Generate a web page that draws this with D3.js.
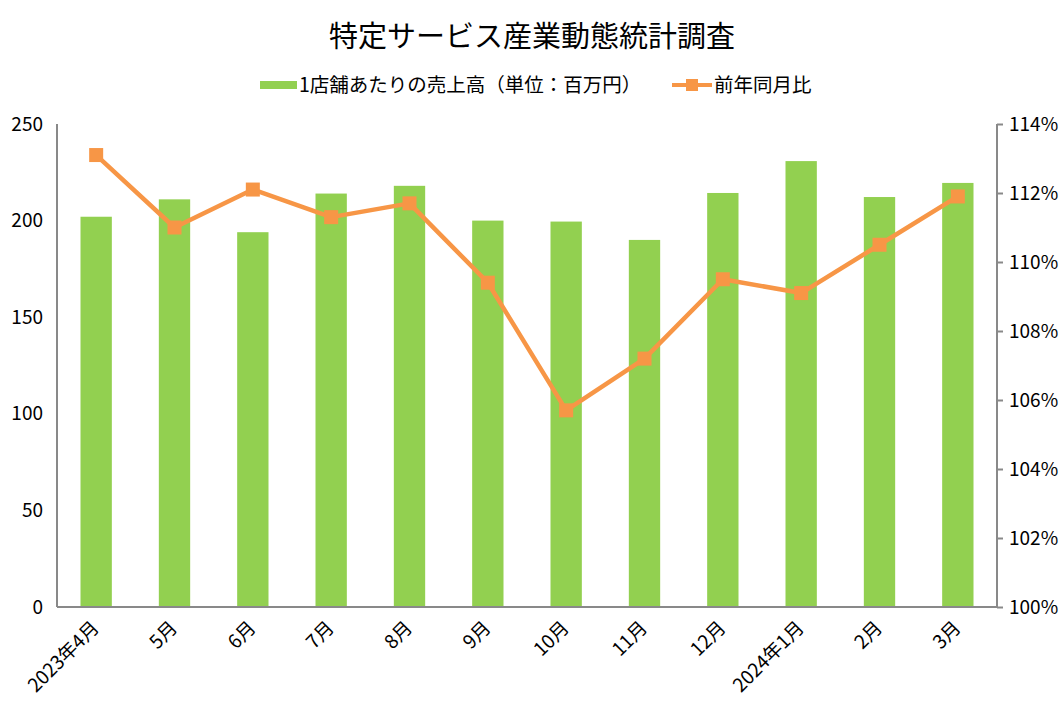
<!DOCTYPE html>
<html><head><meta charset="utf-8">
<script src="https://cdn.jsdelivr.net/npm/d3@7"></script>
<style>
body{margin:0;background:#fff;}
text{font-family:"Liberation Sans Narrow","Noto Sans CJK JP",sans-serif;fill:#000;}
.cjk{font-family:"Noto Sans CJK JP",sans-serif;}
</style></head><body>
<svg id="c" width="1063" height="709"></svg>
<script>
const categories=["2023年4月","5月","6月","7月","8月","9月","10月","11月","12月","2024年1月","2月","3月"];
const sales=[202,211,194,214,218,200,199.5,190,214.3,230.8,212.2,219.5];
const yoy=[113.1,111.0,112.1,111.3,111.7,109.4,105.7,107.2,109.5,109.1,110.5,111.9];
const leftTicks=[0,50,100,150,200,250];
const rightTicks=[100,102,104,106,108,110,112,114];
const title="特定サービス産業動態統計調査";
const seriesNames=["1店舗あたりの売上高（単位：百万円）","前年同月比"];

const svg=d3.select("#c");
const L=57,R=997,T=124,B=607;
const x=d3.scaleBand().domain(categories).range([L,R]).paddingInner(0.6).paddingOuter(0.3);
const yL=d3.scaleLinear().domain([0,250]).range([B,T]);
const yR=d3.scaleLinear().domain([100,114]).range([B,T]);
const barColor="#92D050", lineColor="#F79646", axisColor="#898989";

svg.append("text").attr("class","cjk").attr("x",532).attr("y",47).attr("text-anchor","middle")
  .attr("font-size",29).text(title);

// legend
const lg=svg.append("g");
lg.append("rect").attr("x",260).attr("y",81).attr("width",37).attr("height",8).attr("fill",barColor);
lg.append("text").attr("class","cjk").attr("x",299).attr("y",92).attr("font-size",19.5).text(seriesNames[0]);
lg.append("line").attr("x1",672).attr("x2",712).attr("y1",85).attr("y2",85).attr("stroke",lineColor).attr("stroke-width",4);
lg.append("rect").attr("x",686).attr("y",79).attr("width",12).attr("height",12).attr("fill",lineColor);
lg.append("text").attr("class","cjk").attr("x",714).attr("y",92).attr("font-size",19.5).text(seriesNames[1]);

// bars
svg.append("g").selectAll("rect").data(sales).join("rect")
  .attr("x",(d,i)=>x(categories[i])).attr("width",x.bandwidth())
  .attr("y",d=>yL(d)).attr("height",d=>B-yL(d)).attr("fill",barColor);

// axes
const gl=svg.append("g").attr("transform",`translate(${L},0)`)
  .call(d3.axisLeft(yL).tickValues(leftTicks).tickSize(0).tickPadding(14));
const gr=svg.append("g").attr("transform",`translate(${R},0)`)
  .call(d3.axisRight(yR).tickValues(rightTicks).tickFormat(d=>d+"%").tickSize(6).tickPadding(6));
const gx=svg.append("g").attr("transform",`translate(0,${B})`)
  .call(d3.axisBottom(x).tickSize(0).tickPadding(0).tickSizeOuter(0));
[gl,gr,gx].forEach(g=>{g.selectAll("path,line").attr("stroke",axisColor).attr("stroke-width",2);
  g.selectAll("text").attr("font-size",19).style("font-family",'"Liberation Sans Narrow","Noto Sans CJK JP",sans-serif');});
gl.select("path.domain").attr("d",`M0,${T}V${B}`);
gr.select("path.domain").attr("d",`M0,${T}V${B}`);
gx.select("path.domain").attr("d",`M${L},0H${R}`);
gx.selectAll("text").attr("text-anchor","end").attr("dy",0).attr("font-size",19)
  .attr("transform","translate(4,22) rotate(-45)");

// line
const pts=yoy.map((v,i)=>[x(categories[i])+x.bandwidth()/2,yR(v)]);
svg.append("path").attr("d",d3.line()(pts)).attr("fill","none").attr("stroke",lineColor).attr("stroke-width",4.5).attr("stroke-linejoin","round");
svg.append("g").selectAll("rect").data(pts).join("rect")
  .attr("x",d=>d[0]-7).attr("y",d=>d[1]-7).attr("width",14).attr("height",14).attr("fill",lineColor);
</script></body></html>
